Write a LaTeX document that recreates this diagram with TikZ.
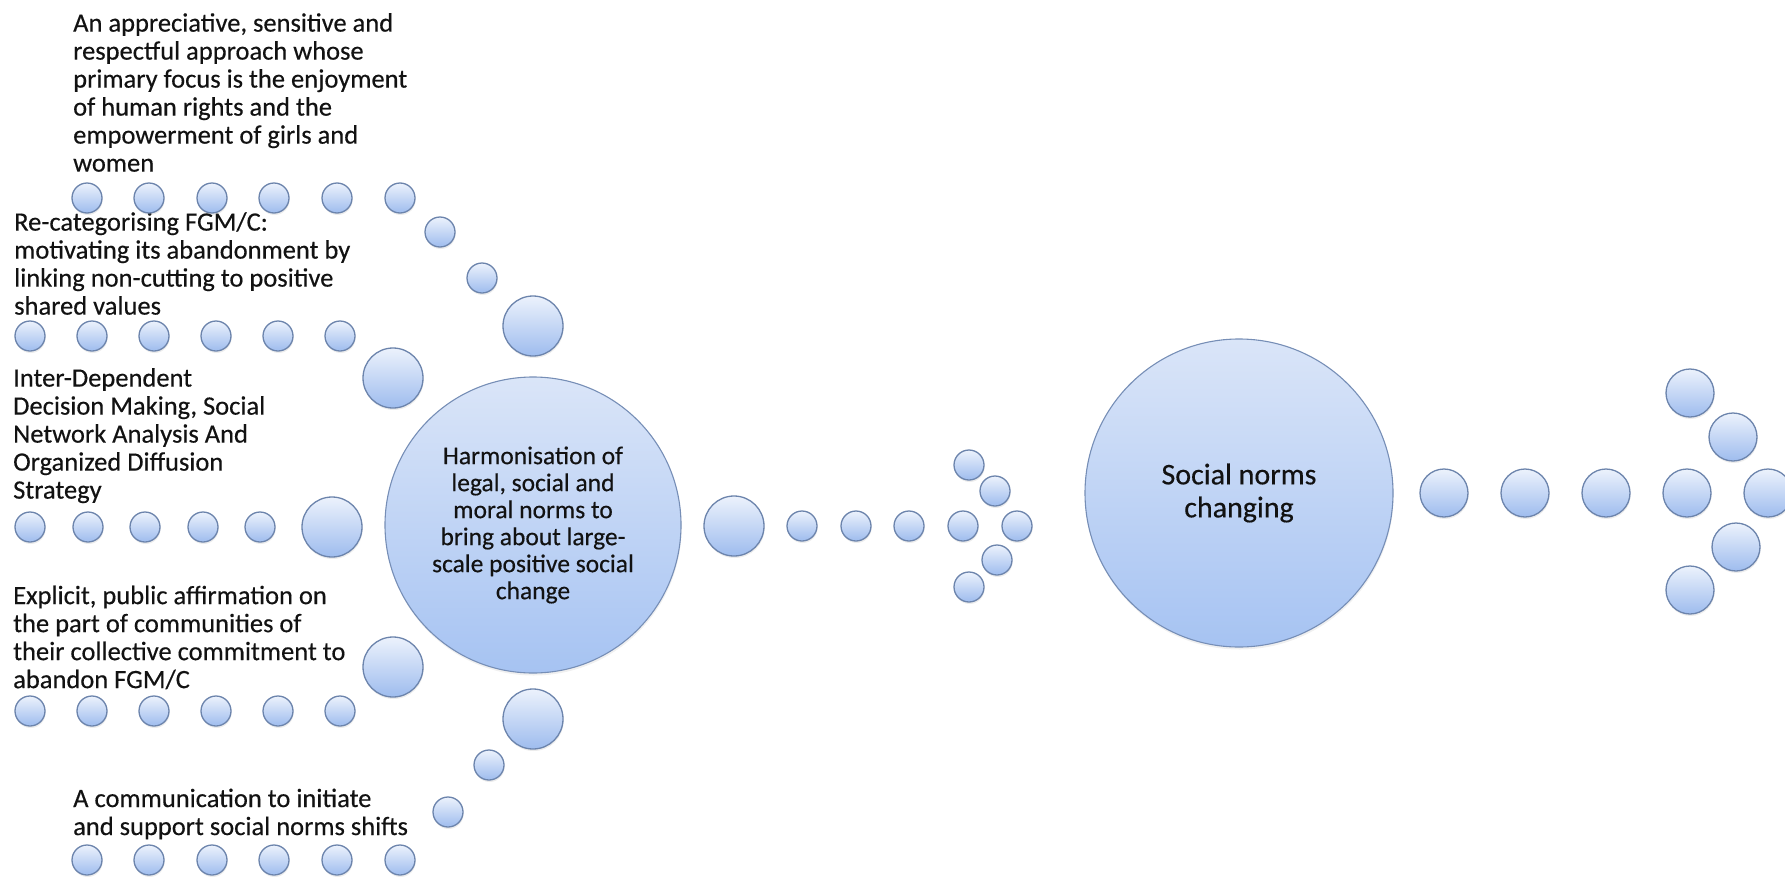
\documentclass[tikz,border=0pt]{standalone}
\usepackage{fontspec}
\setmainfont{Carlito}[FakeBold=0.35]
\usetikzlibrary{shadows}
\definecolor{bubtop}{RGB}{236,242,252}
\definecolor{bubbot}{RGB}{158,188,238}
\definecolor{bubline}{RGB}{108,132,172}
\definecolor{bigtop}{RGB}{218,229,248}
\definecolor{bigbot}{RGB}{166,195,242}
\definecolor{bigline}{RGB}{118,142,182}
\definecolor{txt}{RGB}{18,18,18}
\begin{document}
\begin{tikzpicture}[x=1pt,y=-1pt,
  bub/.style={circle, inner sep=0pt, minimum size=#1, draw=bubline, line width=1.3pt,
    top color=bubtop, bottom color=bubbot,
    drop shadow={opacity=0.15, shadow xshift=0.6pt, shadow yshift=-2pt}},
  bub/.default=30pt,
  bigbub/.style={circle, inner sep=0pt, minimum size=#1, draw=bigline, line width=1.1pt,
    top color=bigtop, bottom color=bigbot, text=txt, align=center,
    drop shadow={opacity=0.12, shadow xshift=0.6pt, shadow yshift=-2.5pt}},
  lbl/.style={font=\fontsize{26.5}{28}\selectfont, text=txt, align=left, inner sep=0pt, anchor=north west}
]
\useasboundingbox (0,0) rectangle (1785,878);

% ---- texts ----
\node[lbl] (t1) at (73,13) {An appreciative, sensitive and\\respectful approach whose\\primary focus is the enjoyment\\of human rights and the\\empowerment of girls and\\women};
\node[lbl] (t2) at (14,212) {Re-categorising FGM/C:\\motivating its abandonment by\\linking non-cutting to positive\\shared values};
\node[lbl] (t3) at (13,368) {Inter-Dependent\\Decision Making, Social\\Network Analysis And\\Organized Diffusion\\Strategy};
\node[lbl] (t4) at (13,585.5) {Explicit, public affirmation on\\the part of communities of\\their collective commitment to\\abandon FGM/C};
\node[lbl] (t5) at (73,788.5) {A communication to initiate\\and support social norms shifts};

% ---- rows of small bubbles ----
\foreach \x [count=\i] in {87,149,212,274,337,400} {
  \node[bub] (ra\i) at (\x,198) {};
  \node[bub] (re\i) at (\x,860) {};
}
\foreach \x [count=\i] in {30,92,154,216,278,340} {
  \node[bub] (rb\i) at (\x,336) {};
  \node[bub] (rd\i) at (\x,711) {};
}
\foreach \x [count=\i] in {30,88,145,203,260} {
  \node[bub] (rc\i) at (\x,527) {};
}
\node[bub=60pt] (rc6) at (332,527) {};

% ---- diagonals and big bubbles around main circle ----
\node[bub] (da1) at (440,232) {};
\node[bub] (da2) at (482,278) {};
\node[bub=60pt] (da3) at (533,326) {};
\node[bub=60pt] (db) at (393,378) {};
\node[bub=60pt] (dd) at (393,667) {};
\node[bub=60pt] (de3) at (533,719) {};
\node[bub] (de2) at (489,765) {};
\node[bub] (de1) at (448,812) {};

% ---- main circle ----
\node[bigbub=296pt, font=\fontsize{25.5}{27}\selectfont] (main) at (533,525)
  {Harmonisation of\\legal, social and\\moral norms to\\bring about large-\\scale positive social\\change};

% ---- middle arrow ----
\node[bub=60pt] (ma0) at (734,526) {};
\foreach \x [count=\i] in {802,856,909,963,1017} {
  \node[bub] (ma\i) at (\x,526) {};
}
\node[bub] (mh1) at (969,465) {};
\node[bub] (mh2) at (995,491) {};
\node[bub] (mh3) at (997,560) {};
\node[bub] (mh4) at (969,587) {};

% ---- social norms circle ----
\node[bigbub=308pt, font=\fontsize{30}{33}\selectfont] (soc) at (1239,493)
  {Social norms\\changing};

% ---- right arrow ----
\foreach \x [count=\i] in {1444,1525,1606,1687,1768} {
  \node[bub=48pt] (ra\i x) at (\x,493) {};
}
\node[bub=48pt] (rh1) at (1690,393) {};
\node[bub=48pt] (rh2) at (1733,437) {};
\node[bub=48pt] (rh3) at (1736,547) {};
\node[bub=48pt] (rh4) at (1690,590) {};
\end{tikzpicture}
\end{document}
